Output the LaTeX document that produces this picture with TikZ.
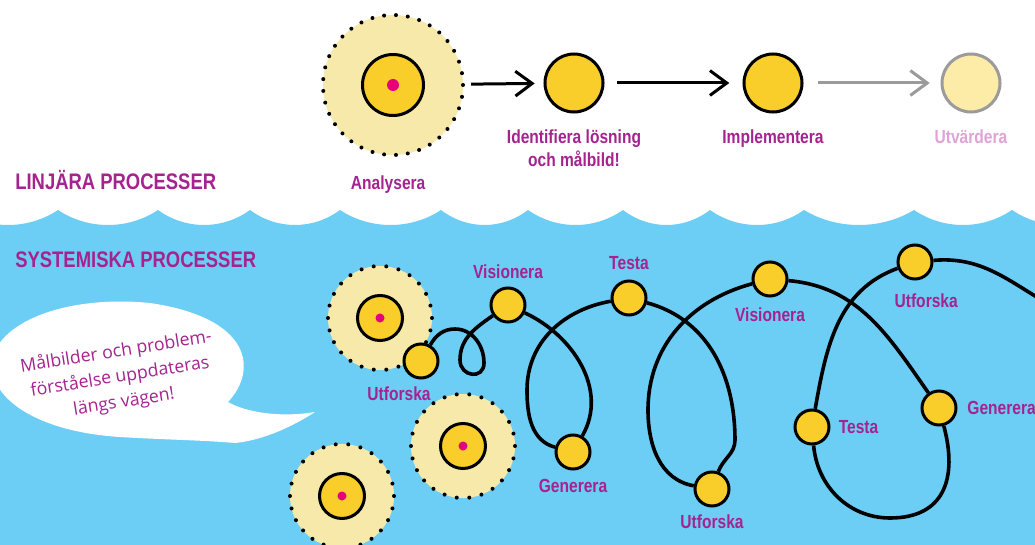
\documentclass[tikz,border=0pt]{standalone}
\usepackage{fontspec}
\usetikzlibrary{arrows.meta,positioning}
\newfontfamily\tagfont[FakeStretch=0.82]{Liberation Sans}
\newfontfamily\bubblefont{Open Sans}

\begin{document}
\begin{tikzpicture}[x=0.025cm,y=-0.025cm]
  % Colors
  \definecolor{sky}{RGB}{109,206,245}
  \definecolor{sun}{RGB}{249,205,42}
  \definecolor{pale}{RGB}{246,233,169}
  \definecolor{seedpink}{RGB}{229,0,125}
  \definecolor{plum}{RGB}{164,35,143}
  \definecolor{lightplum}{RGB}{223,163,214}
  \definecolor{fadedsun}{RGB}{253,235,168}
  \definecolor{fadedgray}{RGB}{155,155,155}

  % Styles
  \tikzstyle{big ring}=[circle,fill=pale,draw=black,line width=0.1cm,line cap=round,
    dash pattern=on 0pt off 0.2972cm,minimum size=3.5cm,inner sep=0pt]
  \tikzstyle{small ring}=[big ring,dash pattern=on 0pt off 0.3141cm,minimum size=2.6cm]
  \tikzstyle{big core}=[circle,fill=sun,draw=black,line width=0.075cm,minimum size=1.525cm,inner sep=0pt]
  \tikzstyle{small core}=[big core,minimum size=1.125cm]
  \tikzstyle{big seed}=[circle,fill=seedpink,minimum size=0.3cm,inner sep=0pt]
  \tikzstyle{small seed}=[big seed,minimum size=0.225cm]
  \tikzstyle{stage}=[circle,fill=sun,draw=black,line width=0.075cm,minimum size=1.45cm,inner sep=0pt]
  \tikzstyle{faded stage}=[stage,fill=fadedsun,draw=fadedgray]
  \tikzstyle{stop}=[stage,minimum size=0.85cm]
  \tikzstyle{tag}=[text=plum,inner sep=0pt,align=center,
    font=\tagfont\bfseries\fontsize{13.5pt}{16.4pt}\selectfont]
  \tikzstyle{heading}=[text=plum,inner sep=0pt,anchor=west,
    font=\tagfont\bfseries\fontsize{16pt}{19pt}\selectfont]
  \tikzstyle{link}=[line width=0.075cm,-{Straight Barb[length=0.42cm,width=0.62cm]}]
  \tikzstyle{flow}=[line width=0.09cm]

  % Canvas
  \clip (0,0) rectangle (1035,545);
  \fill[white] (0,0) rectangle (1035,545);

  % The sea
  \fill[sky] (-42,210) foreach \p/\q in {-42/58,58/158,158/250,250/340,340/441,441/528,
      528/623,623/710,710/804,804/914,914/1012,1012/1110}
    { .. controls ({\p+0.3*(\q-\p)},230) and ({\q-0.3*(\q-\p)},230) .. (\q,210) }
    -- (1110,560) -- (-42,560) -- cycle;

  % Speech bubble
  \fill[white] (315,412) .. controls (280,418) and (245,412) .. (228,402)
    .. controls (258,370) and (252,318) .. (150,303)
    .. controls (70,295) and (0,320) .. (-8,360)
    .. controls (-12,400) and (40,432) .. (120,437)
    .. controls (170,440) and (200,440) .. (235,443)
    .. controls (265,440) and (295,425) .. (315,412);
  \node[text=plum,rotate=9,align=center,inner sep=0pt,
    font=\bubblefont\fontsize{12.6pt}{18pt}\selectfont] (bubble text) at (120,377)
    {Målbilder och problem-\\förståelse uppdateras\\längs vägen!};

  % Headings
  \node[heading] (linear) at (15,180) {LINJÄRA PROCESSER};
  \node[heading] (systemic) at (15,260) {SYSTEMISKA PROCESSER};

  % Linear process
  \node[big ring] (analyse) at (393,85) {};
  \node[big core] (analyse core) at (analyse) {};
  \node[big seed] (analyse seed) at (analyse) {};
  \node[stage] (identify) at (574,83) {};
  \node[stage] (implement) at (773,83) {};
  \node[faded stage] (evaluate) at (971,83) {};

  \draw[link,shorten <=0.15cm,shorten >=0.22cm] (analyse) -- (identify);
  \draw[link,shorten <=0.32cm,shorten >=0.33cm] (identify) -- (implement);
  \draw[link,fadedgray,shorten <=0.36cm,shorten >=0.27cm] (implement) -- (evaluate);

  \node[tag,below=0.47cm of analyse,xshift=-0.12cm] (analyse label) {Analysera};
  \node[tag,below=0.4cm of identify] (identify label) {Identifiera lösning\\och målbild!};
  \node[tag,below=0.4cm of implement] (implement label) {Implementera};
  \node[tag,text=lightplum,below=0.4cm of evaluate] (evaluate label) {Utvärdera};

  % Systemic process
  \node[small ring] (ring a) at (380,318) {};
  \node[small core] (ring a core) at (ring a) {};
  \node[small seed] (ring a seed) at (ring a) {};
  \node[small ring] (ring b) at (463,446) {};
  \node[small core] (ring b core) at (ring b) {};
  \node[small seed] (ring b seed) at (ring b) {};
  \node[small ring] (ring c) at (342,496) {};
  \node[small core] (ring c core) at (ring c) {};
  \node[small seed] (ring c seed) at (ring c) {};

  \node[stop] (explore a) at (421,361) {};
  \node[stop] (vision a) at (508,305) {};
  \node[stop] (generate a) at (573,452) {};
  \node[stop] (test a) at (629,298) {};
  \node[stop] (explore b) at (712,489) {};
  \node[stop] (vision b) at (770,279) {};
  \node[stop] (generate b) at (939,408) {};
  \node[stop] (test b) at (812,427) {};
  \node[stop] (explore c) at (915,262) {};

  \node[tag,below=0.18cm of explore a,xshift=-0.55cm] (explore a label) {Utforska};
  \node[tag,above=0.2cm of vision a] (vision a label) {Visionera};
  \node[tag,below=0.22cm of generate a] (generate a label) {Generera};
  \node[tag,above=0.25cm of test a] (test a label) {Testa};
  \node[tag,below=0.18cm of explore b] (explore b label) {Utforska};
  \node[tag,below=0.25cm of vision b] (vision b label) {Visionera};
  \node[tag,right=0.24cm of generate b] (generate b label) {Generera};
  \node[tag,right=0.2cm of test b] (test b label) {Testa};
  \node[tag,below=0.32cm of explore c,xshift=0.28cm] (explore c label) {Utforska};

  % The winding path
  \coordinate (loop top) at (455,329);
  \coordinate (loop right) at (484,363);
  \coordinate (loop left) at (460,360);
  \coordinate (bend a) at (527,390);
  \coordinate (bend b) at (735,440);
  \coordinate (bend c) at (648,410);
  \coordinate (bend d) at (890,518);
  \coordinate (tail) at (1050,305);

  \draw[flow] (explore a) to[out=60,in=180] (loop top) to[out=0,in=90] (loop right)
    to[out=-90,in=-90,looseness=1.8] (loop left) to[out=90,in=215] (vision a)
    to[out=-25,in=60] (generate a) to[out=165,in=-90] (bend a)
    to[out=90,in=190] (test a) to[out=-15,in=90] (bend b)
    to[out=-90,in=70] (explore b) to[out=170,in=-90] (bend c)
    to[out=90,in=195] (vision b) to[out=-5,in=125] (generate b)
    to[out=-75,in=0,looseness=1.3] (bend d) to[out=180,in=-85] (test b)
    to[out=80,in=200] (explore c) to[out=5,in=150] (tail);
\end{tikzpicture}
\end{document}
